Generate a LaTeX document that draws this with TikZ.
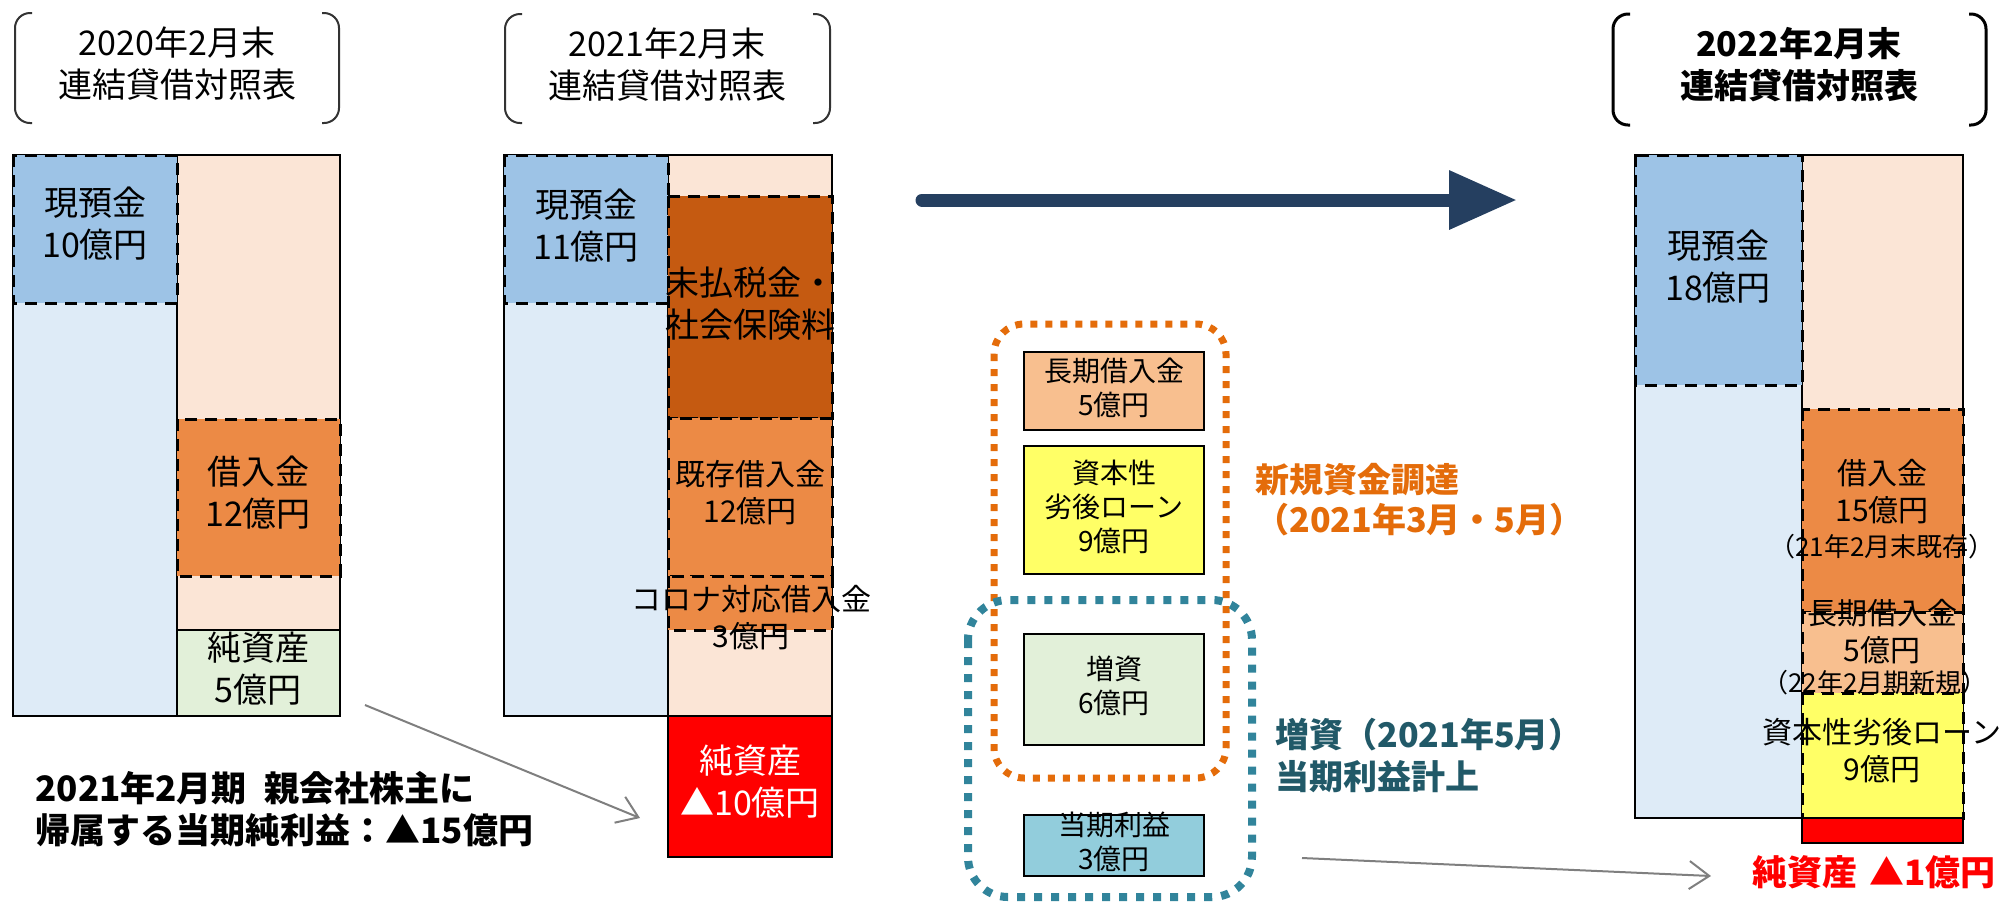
\documentclass[tikz,border=0pt]{standalone}
\usepackage{fontspec}
\setmainfont{Noto Sans CJK JP}
\usetikzlibrary{arrows.meta}
\definecolor{ltblue}{HTML}{DEEBF7}
\definecolor{cashblue}{HTML}{9DC3E6}
\definecolor{peach}{HTML}{FBE5D6}
\definecolor{loanor}{HTML}{EC8A45}
\definecolor{darkor}{HTML}{C55A11}
\definecolor{ltgreen}{HTML}{E2F0D9}
\definecolor{yelw}{HTML}{FFFF66}
\definecolor{peachB}{HTML}{F8BF8F}
\definecolor{profit}{HTML}{92CDDC}
\definecolor{dotor}{HTML}{E46C0A}
\definecolor{dotteal}{HTML}{31849B}
\definecolor{txteal}{HTML}{215968}
\definecolor{navy}{HTML}{253F60}
\definecolor{arrgray}{HTML}{7F7F7F}
\newcommand\fsL{\fontsize{17pt}{21pt}\selectfont}
\newcommand\fsM{\fontsize{15pt}{18.5pt}\selectfont}
\newcommand\fsS{\fontsize{14pt}{17pt}\selectfont}
\newcommand\fsXS{\fontsize{13pt}{15pt}\selectfont}
\newcommand\fsB{\fontsize{17.5pt}{21pt}\selectfont\bfseries}
\tikzset{
  frame/.style={draw=black, line width=1pt},
  dbox/.style={draw=black, line width=1.5pt, dash pattern=on 6pt off 4pt},
  brk/.style={draw=black!80, line width=1pt, rounded corners=7.5pt},
  lbl/.style={align=center, inner sep=0pt, font=\fsL},
  lblM/.style={align=center, inner sep=0pt, font=\fsM},
  lblS/.style={align=center, inner sep=0pt, font=\fsS},
  lblXS/.style={align=center, inner sep=0pt, font=\fsXS},
  cbox/.style={draw=black, line width=1.2pt},
  garrow/.style={draw=arrgray, line width=1pt, -{Straight Barb[length=10pt,width=14pt]}},
  odots/.style={draw=dotor, line width=3.5pt, dash pattern=on 3.5pt off 4pt, rounded corners=15pt},
  tdots/.style={draw=dotteal, line width=4pt, dash pattern=on 4pt off 4.5pt, rounded corners=20pt}
}
\begin{document}
\begin{tikzpicture}[x=0.5pt,y=-0.5pt]
\useasboundingbox (0,0) rectangle (2002,902);
% ---------- brackets ----------
\draw[brk] (32,13) -- (15,13) -- (15,123) -- (32,123);
\draw[brk] (322,13) -- (339,13) -- (339,123) -- (322,123);
\draw[brk] (522,14) -- (505,14) -- (505,123) -- (522,123);
\draw[brk] (813,14) -- (830,14) -- (830,123) -- (813,123);
\draw[brk, draw=black, line width=1.5pt] (1630,14) -- (1613,14) -- (1613,125) -- (1630,125);
\draw[brk, draw=black, line width=1.5pt] (1969,14) -- (1986,14) -- (1986,125) -- (1969,125);
\node[lbl] (h1) at (177,64) {2020年2月末\\連結貸借対照表};
\node[lbl] (h2) at (667,65) {2021年2月末\\連結貸借対照表};
\node[lbl, font=\fsL\bfseries] (h3) at (1799,65) {2022年2月末\\連結貸借対照表};
% ---------- BS 2020 ----------
\draw[frame, fill=ltblue] (13,155) rectangle (177,716);
\draw[frame, fill=peach] (177,155) rectangle (340,716);
\draw[dbox, fill=cashblue] (13,155) rectangle (177,303);
\draw[dbox, fill=loanor] (177,419) rectangle (340,576);
\draw[frame, fill=ltgreen] (177,630) rectangle (340,716);
\node[lbl] (t11) at (95,224) {現預金\\10億円};
\node[lbl] (t12) at (258,493) {借入金\\12億円};
\node[lbl] (t13) at (258,669) {純資産\\5億円};
% ---------- BS 2021 ----------
\draw[frame, fill=ltblue] (504,155) rectangle (668,716);
\draw[frame, fill=peach] (668,155) rectangle (832,716);
\draw[dbox, fill=cashblue] (504,155) rectangle (668,303);
\draw[dbox, fill=darkor] (668,196) rectangle (832,418);
\draw[dbox, fill=loanor] (668,418) rectangle (832,576);
\draw[dbox, fill=loanor] (668,576) rectangle (832,630);
\draw[frame, fill=red] (668,716) rectangle (832,857);
\node[lbl] (t21) at (586,226) {現預金\\11億円};
\node[lbl] (t22) at (750,304) {未払税金・\\社会保険料};
\node[lblM] (t23) at (750,493) {既存借入金\\12億円};
\node[lblM] (t24) at (751,618) {コロナ対応借入金\\3億円};
\node[lbl, text=white] (t25) at (750,782) {純資産\\▲10億円};
% ---------- bottom-left note ----------
\node[anchor=west, align=left, inner sep=0pt, font=\fsB] (note) at (35,809) {2021年2月期\hspace{0.5em}親会社株主に\\帰属する当期純利益：▲15億円};
\coordinate (a1s) at (365,705);
\coordinate (a1e) at (640,818);
\draw[garrow] (a1s) -- (a1e);
% ---------- big arrow ----------
\coordinate (bigS) at (922,200);
\coordinate (bigE) at (1517,200);
\draw[navy, line width=6.5pt, line cap=round, -{Triangle[length=34pt,width=28pt]}] (bigS) -- (bigE);
% ---------- middle funding ----------
\draw[cbox, fill=peachB] (1024,352) rectangle (1204,430);
\draw[cbox, fill=yelw] (1024,446) rectangle (1204,574);
\draw[cbox, fill=ltgreen] (1024,634) rectangle (1204,745);
\draw[cbox, fill=profit] (1024,815) rectangle (1204,876);
\node[lblS] (c1) at (1114,388) {長期借入金\\5億円};
\node[lblS] (c2) at (1114,507) {資本性\\劣後ローン\\9億円};
\node[lblS] (c3) at (1114,686) {増資\\6億円};
\node[lblS] (c4) at (1114,842) {当期利益\\3億円};
\draw[odots] (994,324) rectangle (1226,778);
\draw[tdots] (968,600) rectangle (1252,897);
\node[anchor=west, align=left, inner sep=0pt, text=dotor, font=\fontsize{17pt}{20pt}\selectfont\bfseries] (lab1) at (1255,500) {新規資金調達\\（2021年3月・5月）};
\node[anchor=west, align=left, inner sep=0pt, text=txteal, font=\fontsize{17pt}{21pt}\selectfont\bfseries] (lab2) at (1275,755) {増資（2021年5月）\\当期利益計上};
\coordinate (a2s) at (1302,858);
\coordinate (a2e) at (1711,876);
\draw[garrow] (a2s) -- (a2e);
% ---------- BS 2022 ----------
\draw[frame, fill=ltblue] (1635,155) rectangle (1802,818);
\draw[frame, fill=peach] (1802,155) rectangle (1963,818);
\draw[dbox, fill=cashblue] (1635,155) rectangle (1802,385);
\draw[dbox, fill=loanor] (1802,409) rectangle (1963,612);
\draw[dbox, fill=peachB] (1802,612) rectangle (1963,693);
\draw[dbox, fill=yelw] (1802,693) rectangle (1963,818);
\draw[frame, fill=red] (1802,818) rectangle (1963,843);
\node[lbl] (t31) at (1718,267) {現預金\\18億円};
\node[lblM] (t32) at (1882,492) {借入金\\15億円};
\node[lblXS] (t32b) at (1882,547) {（21年2月末既存）};
\node[lblM] (t33) at (1882,632) {長期借入金\\5億円};
\node[lblXS] (t33b) at (1875,683) {（22年2月期新規）};
\node[lblM] (t34) at (1882,751) {資本性劣後ローン\\9億円};
\node[anchor=west, inner sep=0pt, text=red, font=\fsB] (na3) at (1752,872) {純資産\hspace{0.35em}▲1億円};
\end{tikzpicture}
\end{document}
